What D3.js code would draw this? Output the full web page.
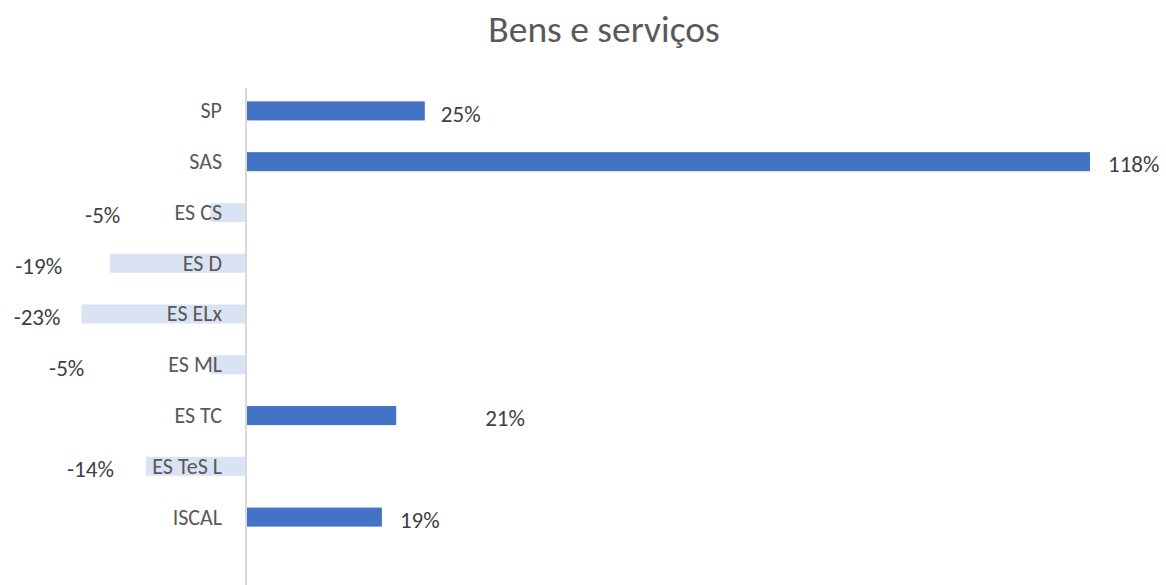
<!DOCTYPE html>
<html>
<head>
<meta charset="utf-8">
<script src="https://cdn.jsdelivr.net/npm/d3@7"></script>
<style>
  html, body { margin: 0; padding: 0; background: #fff; }
  svg { display: block; font-family: Carlito, Lato, "Open Sans", sans-serif; }
</style>
</head>
<body>
<svg id="chart" width="1166" height="585"></svg>
<script>
// Variation by unit (%)
const categories = ["SP", "SAS", "ES CS", "ES D", "ES ELx", "ES ML", "ES TC", "ES TeS L", "ISCAL"];
const values = [25, 118, -5, -19, -23, -5, 21, -14, 19];
const chartTitle = "Bens e serviços";

// Hand-placed value label offsets (px away from the bar end)
const labelGap = [16, 18, 90, 48, 21, 126, 89, 32, 18];

const svg = d3.select("#chart");
const W = 1166, H = 585;

const x = d3.scaleLinear().domain([0, 118]).range([246, 1090]);
const y = d3.scaleBand().domain(categories).range([85.5, 542.5])
  .paddingInner(0.625).paddingOuter(0.3125);

svg.append("text")
  .attr("x", 604).attr("y", 42)
  .attr("text-anchor", "middle")
  .attr("font-size", 37.5)
  .attr("fill", "#595959")
  .text(chartTitle);

const rows = categories.map((c, i) => ({ c, v: values[i], gap: labelGap[i] }));

svg.append("g").selectAll("rect").data(rows).join("rect")
  .attr("x", d => Math.min(x(0), x(d.v)))
  .attr("y", d => y(d.c))
  .attr("width", d => Math.abs(x(d.v) - x(0)))
  .attr("height", y.bandwidth())
  .attr("fill", d => d.v >= 0 ? "#4472C4" : "#DAE3F3");

// vertical axis line
svg.append("line")
  .attr("x1", x(0)).attr("x2", x(0))
  .attr("y1", 88).attr("y2", H)
  .attr("stroke", "#D9D9D9").attr("stroke-width", 2);

// category labels
svg.append("g").selectAll("text").data(rows).join("text")
  .attr("x", 222)
  .attr("y", d => y(d.c) + y.bandwidth() / 2)
  .attr("dy", "0.34em")
  .attr("text-anchor", "end")
  .attr("font-size", 22)
  .attr("fill", "#595959")
  .text(d => d.c);

// value labels
svg.append("g").selectAll("text").data(rows).join("text")
  .attr("x", d => d.v >= 0 ? x(d.v) + d.gap : x(d.v) - d.gap)
  .attr("y", d => y(d.c) + y.bandwidth() / 2 + 3)
  .attr("dy", "0.34em")
  .attr("text-anchor", d => d.v >= 0 ? "start" : "end")
  .attr("font-size", 23)
  .attr("fill", "#404040")
  .text(d => d.v + "%");
</script>
</body>
</html>
